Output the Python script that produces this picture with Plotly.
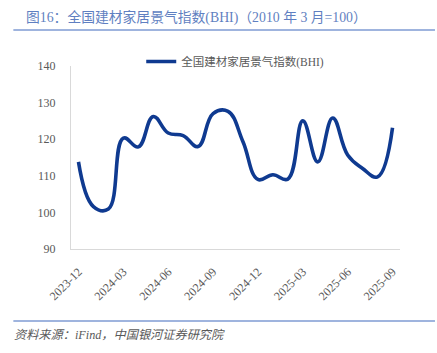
import plotly.graph_objects as go

months = ["2023-12", "2024-01", "2024-02", "2024-03", "2024-04", "2024-05", "2024-06",
          "2024-07", "2024-08", "2024-09", "2024-10", "2024-11", "2024-12", "2025-01",
          "2025-02", "2025-03", "2025-04", "2025-05", "2025-06", "2025-07", "2025-08",
          "2025-09"]
bhi = [113.8, 101.6, 100.9, 120.3, 117.9, 126.2, 121.7, 121.0, 118.0, 127.0, 127.6,
       119.3, 109.0, 110.3, 109.1, 125.0, 113.8, 125.8, 115.7, 112.0, 109.7, 123.1]
tick_labels = months[::3]
series_name = "全国建材家居景气指数(BHI)"
title_text = "图16：全国建材家居景气指数(BHI)（2010 年 3 月=100）"
source_text = "资料来源：iFind，中国银河证券研究院"

W, H = 437, 353
L, R, T, B = 70.7, 400.0, 66.0, 249.0
pw, ph = R - L, B - T


def px(x):
    return (x - L) / pw


def py(y):
    return (B - y) / ph


fig = go.Figure()
fig.add_trace(go.Scatter(
    x=months, y=bhi, mode="lines", name=series_name,
    line=dict(color="#0f3a90", width=3.6, shape="spline", smoothing=1.2),
))

mixed = "Liberation Serif, Noto Sans CJK SC, serif"
serif = "Liberation Serif, serif"

fig.update_layout(
    width=W, height=H,
    margin=dict(l=L, r=W - R, t=T, b=H - B, pad=0),
    paper_bgcolor="white", plot_bgcolor="white",
    showlegend=True,
    legend=dict(orientation="h", x=px(141), y=py(47), xanchor="left", yanchor="top",
                font=dict(family=mixed, size=11.5, color="#595959"),
                bgcolor="rgba(0,0,0,0)", borderwidth=0, itemwidth=30),
    xaxis=dict(type="category", tickvals=tick_labels, ticktext=tick_labels,
               tickangle=-45, showgrid=False, zeroline=False,
               showline=True, linecolor="#d9d9d9", linewidth=1,
               ticks="outside", ticklen=10, tickcolor="rgba(0,0,0,0)",
               tickfont=dict(family=serif, size=12, color="#595959"),
               range=[-0.5, len(months) - 0.5], fixedrange=True),
    yaxis=dict(range=[90, 140], dtick=10, showgrid=False, zeroline=False,
               showline=True, linecolor="#d9d9d9", linewidth=1,
               ticks="outside", ticklen=12, tickcolor="rgba(0,0,0,0)",
               tickfont=dict(family=serif, size=12, color="#595959")),
    shapes=[
        dict(type="line", xref="paper", yref="paper", x0=px(13), x1=px(435),
             y0=py(30), y1=py(30), line=dict(color="#7f9bd3", width=1.5)),
        dict(type="line", xref="paper", yref="paper", x0=px(13), x1=px(435),
             y0=py(321), y1=py(321), line=dict(color="#7f9bd3", width=1.5)),
    ],
    annotations=[
        dict(text=title_text, xref="paper", yref="paper", x=px(24), y=py(18),
             xanchor="left", yanchor="middle", showarrow=False,
             font=dict(family=mixed, size=13.8, color="#5f7fc1")),
        dict(text="<i>" + source_text + "</i>", xref="paper", yref="paper",
             x=px(12), y=py(335), xanchor="left", yanchor="middle", showarrow=False,
             font=dict(family=mixed, size=12.2, color="#595959")),
    ],
)

fig.write_html("out.html")
